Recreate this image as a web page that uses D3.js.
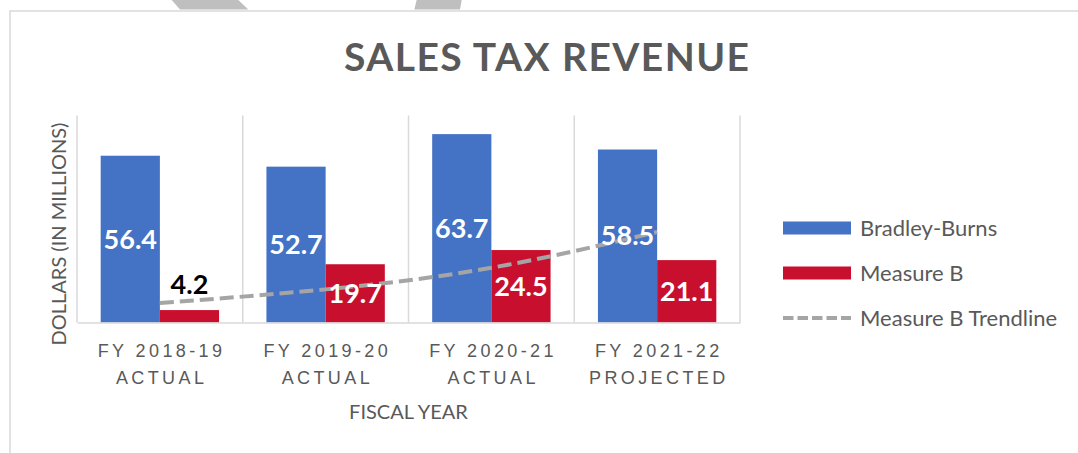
<!DOCTYPE html>
<html>
<head>
<meta charset="utf-8">
<script src="https://d3js.org/d3.v7.min.js"></script>
<style>
  body { margin: 0; background: #fff; }
  svg { display: block; font-family: Lato, "Open Sans", sans-serif; }
</style>
</head>
<body>
<div id="chart"></div>
<script>
// data
const years = ["FY 2018-19", "FY 2019-20", "FY 2020-21", "FY 2021-22"];
const status = ["ACTUAL", "ACTUAL", "ACTUAL", "PROJECTED"];
const seriesNames = ["Bradley-Burns", "Measure B"];
const bradleyBurns = [56.4, 52.7, 63.7, 58.5];
const measureB = [4.2, 19.7, 24.5, 21.1];
// Measure B trendline, read at each category centre
const trendline = [6.6, 11.2, 18.5, 30.6];
const colors = ["#4472C4", "#C8102E"];

const W = 1078, H = 453;
const plot = {left: 77, right: 740, top: 115.5, bottom: 322.5};

const svg = d3.select("#chart").append("svg")
  .attr("width", W).attr("height", H);

// bits of the shape cut off at the top of the page
svg.append("path").attr("fill", "#BFBFBF")
  .attr("d", "M171.7,0L238.3,0L248.3,9.5L180,9.5Z");
svg.append("path").attr("fill", "#BFBFBF")
  .attr("d", "M416.7,0L461.7,0L460,9.5L414.3,9.5Z");

// chart frame
svg.append("rect")
  .attr("x", 10).attr("y", 11).attr("width", W + 20).attr("height", H + 20)
  .attr("fill", "none").attr("stroke", "#D9D9D9").attr("stroke-width", 1.5);

// title
svg.append("text")
  .attr("x", 546.5).attr("y", 71)
  .attr("text-anchor", "middle")
  .attr("font-size", 39).attr("font-weight", 700)
  .attr("fill", "#595959")
  .attr("textLength", 405).attr("lengthAdjust", "spacing")
  .text("SALES TAX REVENUE");

// scales
const x0 = d3.scaleBand().domain(years).range([plot.left, plot.right]).padding(0);
const x1 = d3.scaleBand().domain(seriesNames).range([0, x0.bandwidth()])
  .paddingInner(0).paddingOuter(0.4);
const y = d3.scaleLinear().domain([0, 70]).range([plot.bottom, plot.top]);

// vertical gridlines between categories
const gridX = years.map(d => x0(d)).concat([plot.right]);
svg.append("g").selectAll("line").data(gridX).join("line")
  .attr("x1", d => d).attr("x2", d => d)
  .attr("y1", plot.top).attr("y2", plot.bottom)
  .attr("stroke", "#D9D9D9").attr("stroke-width", 1.5);

// bars
const rows = years.map((yr, i) => ({year: yr, values: [bradleyBurns[i], measureB[i]]}));
const groups = svg.append("g").selectAll("g").data(rows).join("g")
  .attr("transform", d => `translate(${x0(d.year)},0)`);

groups.selectAll("rect").data(d => d.values.map((v, j) => ({key: seriesNames[j], v, j})))
  .join("rect")
  .attr("x", d => x1(d.key))
  .attr("y", d => y(d.v))
  .attr("width", x1.bandwidth())
  .attr("height", d => y(0) - y(d.v))
  .attr("fill", d => colors[d.j]);

// x axis
const xAxis = svg.append("g")
  .attr("transform", `translate(0,${plot.bottom})`)
  .call(d3.axisBottom(x0).tickSize(0).tickFormat(""));
xAxis.select(".domain").attr("stroke", "#D9D9D9").attr("stroke-width", 1.5);

xAxis.selectAll(".tick").each(function(d, i) {
  const t = d3.select(this).append("text")
    .attr("fill", "#595959").attr("font-size", 18)
    .attr("text-anchor", "middle")
    .style("letter-spacing", "3.4px");
  t.append("tspan").attr("x", 1.7).attr("y", 34.5).text(d);
  t.append("tspan").attr("x", 1.7).attr("y", 61).text(status[i]);
});

// trendline
const line = d3.line()
  .x((d, i) => x0(years[i]) + x0.bandwidth() / 2)
  .y(d => y(d))
  .curve(d3.curveNatural);
svg.append("path").datum(trendline)
  .attr("fill", "none").attr("stroke", "#A5A5A5")
  .attr("stroke-width", 4).attr("stroke-dasharray", "14,6")
  .attr("d", line);

// data labels
const labels = svg.append("g").attr("font-weight", 700).attr("font-size", 27)
  .attr("text-anchor", "middle");
groups.each(function(d) {
  d.values.forEach((v, j) => {
    const key = seriesNames[j];
    const cx = x0(d.year) + x1(key) + x1.bandwidth() / 2;
    const inside = y(0) - y(v) > 40;
    const cy = inside ? (y(v) + y(0)) / 2 : y(v) - 26;
    labels.append("text")
      .attr("x", cx).attr("y", cy).attr("dy", "0.35em")
      .attr("fill", inside ? "#fff" : "#000")
      .text(v.toFixed(1));
  });
});

// axis titles
svg.append("text")
  .attr("x", 408.5).attr("y", 419)
  .attr("text-anchor", "middle")
  .attr("font-size", 20).attr("fill", "#595959")
  .text("FISCAL YEAR");

svg.append("text")
  .attr("transform", "translate(66,234) rotate(-90)")
  .attr("text-anchor", "middle")
  .attr("font-size", 20).attr("fill", "#595959")
  .text("DOLLARS (IN MILLIONS)");

// legend
const legendItems = [
  {name: "Bradley-Burns", type: "bar", color: colors[0]},
  {name: "Measure B", type: "bar", color: colors[1]},
  {name: "Measure B Trendline", type: "line", color: "#A5A5A5"}
];
const legend = svg.append("g").attr("transform", "translate(783,228)");
const li = legend.selectAll("g").data(legendItems).join("g")
  .attr("transform", (d, i) => `translate(0,${i * 45})`);
li.filter(d => d.type === "bar").append("rect")
  .attr("x", 0).attr("y", -6.5).attr("width", 68).attr("height", 13)
  .attr("fill", d => d.color);
li.filter(d => d.type === "line").append("line")
  .attr("x1", 0).attr("x2", 68).attr("y1", 0).attr("y2", 0)
  .attr("stroke", d => d.color).attr("stroke-width", 4)
  .attr("stroke-dasharray", "10.5,4");
li.append("text")
  .attr("x", 77).attr("y", 0).attr("dy", "0.35em")
  .attr("font-size", 22).attr("fill", "#595959")
  .text(d => d.name);
</script>
</body>
</html>
